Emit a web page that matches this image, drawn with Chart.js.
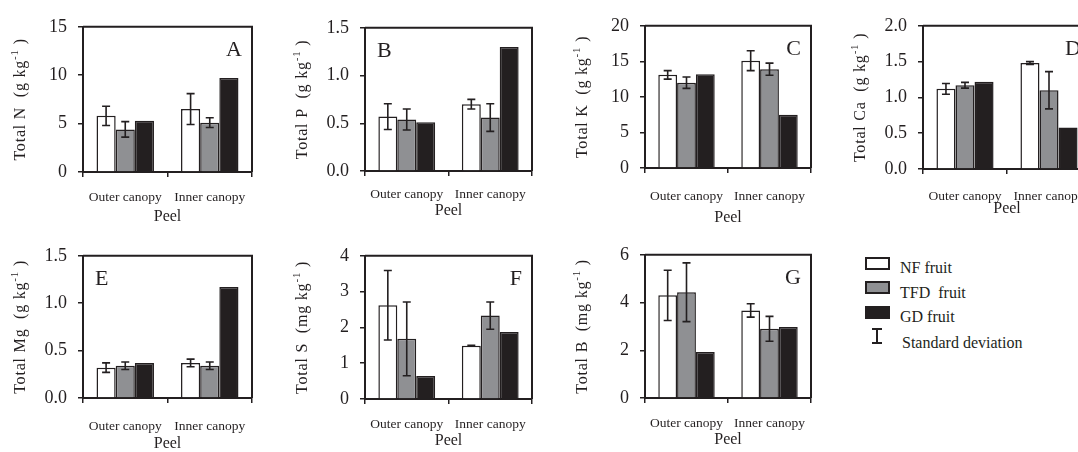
<!DOCTYPE html>
<html>
<head>
<meta charset="utf-8">
<script src="https://cdn.jsdelivr.net/npm/chart.js@4.4.1/dist/chart.umd.min.js"></script>
<style>
  html, body { margin: 0; padding: 0; background: #fff; overflow: hidden; }
  #figure { position: relative; width: 1078px; height: 452px; overflow: hidden; }
  #figure canvas { position: absolute; }
  .key-box { position: absolute; width: 25px; height: 13px; box-sizing: border-box; border: 2px solid #231f20; }
  .key-text { position: absolute; font: 16px 'Liberation Serif', 'Times New Roman', serif; color: #231f20; line-height: 18px; white-space: pre; }
  .key-line { position: absolute; background: #231f20; }
</style>
</head>
<body>
<div id="figure">
  <!-- legend, bottom right -->
  <div class="key-box" style="left:865px; top:257px; background:#ffffff"></div>
  <div class="key-text" style="left:900px; top:259px">NF fruit</div>
  <div class="key-box" style="left:865px; top:281px; background:#8f9093"></div>
  <div class="key-text" style="left:900px; top:284px">TFD  fruit</div>
  <div class="key-box" style="left:865px; top:306px; background:#231f20"></div>
  <div class="key-text" style="left:900px; top:308px">GD fruit</div>
  <div class="key-line" style="left:876px; top:329px; width:2px; height:14px"></div>
  <div class="key-line" style="left:872px; top:328px; width:10px; height:2px"></div>
  <div class="key-line" style="left:872px; top:342px; width:10px; height:2px"></div>
  <div class="key-text" style="left:902px; top:334px">Standard deviation</div>
</div>

<script>
/* Data: each nutrient holds [NF, TFD, GD] means, each as [outer, inner] */
const categories = ['Outer canopy', 'Inner canopy']
const seriesNames = ['NF fruit', 'TFD fruit', 'GD fruit']

const totalN = [[5.8, 6.5], [4.4, 5.1], [5.3, 9.7]]
const totalN_sd = [[1.0, 1.6], [0.8, 0.5]]

const totalP = [[0.57, 0.70], [0.54, 0.56], [0.51, 1.30]]
const totalP_sd = [[0.135, 0.05], [0.11, 0.145]]

const totalK = [[13.1, 15.1], [12.0, 13.9], [13.2, 7.5]]
const totalK_sd = [[0.6, 1.4], [0.8, 0.85]]

const totalCa = [[1.12, 1.48], [1.17, 1.10], [1.22, 0.58]]
const totalCa_sd = [[0.075, 0.02], [0.04, 0.26]]

const totalMg = [[0.32, 0.37], [0.34, 0.34], [0.37, 1.17]]
const totalMg_sd = [[0.05, 0.04], [0.04, 0.04]]

const totalS = [[2.62, 1.49], [1.68, 2.33], [0.64, 1.87]]
const totalS_sd = [[0.97, 0.01], [1.03, 0.38]]

const totalB = [[4.3, 3.67], [4.43, 2.9], [1.93, 2.97]]
const totalB_sd = [[1.05, 0.28], [1.23, 0.52]]

/* Styles */
const ink = '#231f20'
const serif = "'Liberation Serif', 'Times New Roman', serif"
const seriesColors = ['#ffffff', '#8f9093', '#231f20']

/* Panel layout: plot box [left, top, right, bottom] on the page */
const panels = [
  { letter: 'A', name: 'Total N', unit: 'g', means: totalN, sd: totalN_sd, max: 15, step: 5, dec: 0, box: [83, 17, 252, 172], tickY: 197, peelY: 216 },
  { letter: 'B', name: 'Total P', unit: 'g', means: totalP, sd: totalP_sd, max: 1.5, step: 0.5, dec: 1, box: [365, 18, 532, 171], tickY: 194, peelY: 210, letterLeft: true },
  { letter: 'C', name: 'Total K', unit: 'g', means: totalK, sd: totalK_sd, max: 20, step: 5, dec: 0, box: [645, 16, 811, 168], tickY: 196, peelY: 217 },
  { letter: 'D', name: 'Total Ca', unit: 'g', means: totalCa, sd: totalCa_sd, max: 2, step: 0.5, dec: 1, box: [923, 16, 1091, 169], tickY: 196, peelY: 208 },
  { letter: 'E', name: 'Total Mg', unit: 'g', means: totalMg, sd: totalMg_sd, max: 1.5, step: 0.5, dec: 1, box: [83, 246, 252, 398], tickY: 426, peelY: 443, letterLeft: true },
  { letter: 'F', name: 'Total S', unit: 'mg', means: totalS, sd: totalS_sd, max: 4, step: 1, dec: 0, box: [365, 246, 532, 399], tickY: 424, peelY: 440 },
  { letter: 'G', name: 'Total B', unit: 'mg', means: totalB, sd: totalB_sd, max: 6, step: 2, dec: 0, box: [645, 245, 811, 398], tickY: 423, peelY: 439 }
]

const yAxisSpace = 80
const padTop = 12
const padRight = 12

// Error bars, frame, panel letter and y title
function panelExtras(p) {
  return {
    id: 'panelExtras',
    afterDatasetsDraw(chart) {
      const ctx = chart.ctx
      const y = chart.scales.y
      ctx.save()
      ctx.strokeStyle = ink
      ctx.lineWidth = 1.6
      p.sd.forEach((row, i) => {
        chart.getDatasetMeta(i).data.forEach((bar, j) => {
          const v = p.means[i][j]
          const top = y.getPixelForValue(v + row[j])
          const bot = y.getPixelForValue(v - row[j])
          ctx.beginPath()
          ctx.moveTo(bar.x, top); ctx.lineTo(bar.x, bot)
          ctx.moveTo(bar.x - 4, top); ctx.lineTo(bar.x + 4, top)
          ctx.moveTo(bar.x - 4, bot); ctx.lineTo(bar.x + 4, bot)
          ctx.stroke()
        })
      })
      ctx.restore()
    },
    afterDraw(chart) {
      const ctx = chart.ctx
      const a = chart.chartArea
      ctx.save()

      // top and right side of the frame
      ctx.strokeStyle = ink
      ctx.lineWidth = 2
      ctx.beginPath()
      ctx.moveTo(a.left, a.top)
      ctx.lineTo(a.right, a.top)
      ctx.lineTo(a.right, a.bottom)
      ctx.stroke()

      // panel letter
      ctx.fillStyle = ink
      ctx.font = '22px ' + serif
      ctx.textBaseline = 'middle'
      if (p.letterLeft) {
        ctx.textAlign = 'left'
        ctx.fillText(p.letter, a.left + 12, a.top + 23)
      } else {
        ctx.textAlign = 'right'
        ctx.fillText(p.letter, a.right - 10, a.top + 23)
      }

      // y title with superscript -1, slightly letter-spaced like the print
      const main = p.name + '  (' + p.unit + ' kg'
      const sup = '-1'
      const close = ' )'
      ctx.translate(a.left - 62, (a.top + a.bottom) / 2)
      ctx.rotate(-Math.PI / 2)
      ctx.textAlign = 'left'
      ctx.letterSpacing = '0.8px'
      ctx.font = '16px ' + serif
      const w1 = ctx.measureText(main).width
      const w3 = ctx.measureText(close).width
      ctx.font = '11px ' + serif
      const w2 = ctx.measureText(sup).width
      let x = -(w1 + w2 + w3) / 2
      ctx.font = '16px ' + serif
      ctx.fillText(main, x, 0)
      x += w1
      ctx.font = '11px ' + serif
      ctx.fillText(sup, x, -6)
      x += w2
      ctx.font = '16px ' + serif
      ctx.fillText(close, x, 0)

      ctx.restore()
    }
  }
}

function makePanel(p) {
  const [l, t, r, b] = p.box
  const canvasLeft = l - yAxisSpace
  const canvasTop = t - padTop
  const canvasBottom = Math.round(p.peelY + 9.6)
  const xAxisSpace = canvasBottom - b

  const canvas = document.createElement('canvas')
  canvas.width = r + padRight - canvasLeft
  canvas.height = canvasBottom - canvasTop
  canvas.style.left = canvasLeft + 'px'
  canvas.style.top = canvasTop + 'px'
  document.querySelector('#figure').appendChild(canvas)

  new Chart(canvas.getContext('2d'), {
    type: 'bar',
    data: {
      labels: categories,
      datasets: seriesNames.map((name, i) => ({
        label: name,
        data: p.means[i],
        backgroundColor: seriesColors[i],
        borderColor: ink,
        borderWidth: 1.5,
        categoryPercentage: 0.68,
        barPercentage: 1
      }))
    },
    options: {
      responsive: false,
      animation: false,
      layout: { padding: { left: 0, top: padTop, right: padRight, bottom: 0 } },
      plugins: { legend: { display: false }, tooltip: { enabled: false } },
      scales: {
        x: {
          grid: { drawOnChartArea: false, tickLength: 5, color: ink, lineWidth: 1.5 },
          border: { color: ink, width: 2 },
          ticks: { color: ink, font: { family: serif, size: 13.5 }, padding: p.tickY - b - 5 - 8.1, maxRotation: 0 },
          title: { display: true, text: 'Peel', color: ink, font: { family: serif, size: 16 }, padding: 0 },
          afterFit(scale) { scale.height = xAxisSpace }
        },
        y: {
          min: 0,
          max: p.max,
          grid: { drawOnChartArea: false, tickLength: 5, color: ink, lineWidth: 1.5 },
          border: { color: ink, width: 2 },
          ticks: { stepSize: p.step, color: ink, font: { family: serif, size: 18 }, padding: 11,
                   callback: v => v.toFixed(p.dec) },
          afterFit(scale) { scale.width = yAxisSpace }
        }
      }
    },
    plugins: [panelExtras(p)]
  })
}

panels.forEach(makePanel)
</script>
</body>
</html>
